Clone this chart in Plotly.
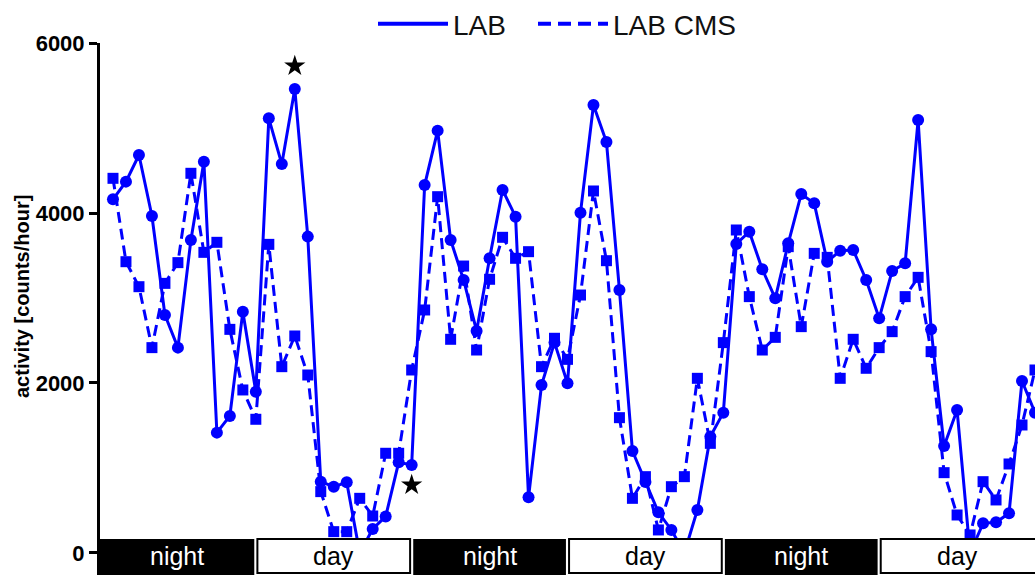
import plotly.graph_objects as go

# ---- data ----
hours = list(range(1, 73))
lab = [4161, 4369, 4682, 3965, 2800, 2416, 3682, 4604, 1416, 1612, 2839, 1898,
       5114, 4576, 5459, 3722, 839, 780, 831, 0, 282, 430, 1067, 1035,
       4329, 4969, 3682, 3212, 2612, 3467, 4271, 3957, 655, 1976, 2475, 1996,
       4004, 5271, 4835, 3094, 1200, 835, 478, 271, 0, 506, 1369, 1651,
       3635, 3780, 3337, 2996, 3643, 4224, 4114, 3427, 3557, 3565, 3212, 2761,
       3318, 3408, 5094, 2631, 1259, 1682, 0, 349, 361, 467, 2024, 1650]
lab_cms = [4408, 3427, 3133, 2416, 3172, 3416, 4467, 3537, 3655, 2631, 1918, 1573,
           3631, 2192, 2553, 2094, 722, 251, 251, 643, 435, 1173, 1173, 2153,
           2859, 4192, 2514, 3376, 2388, 3220, 3714, 3467, 3545, 2192, 2526, 2278,
           3035, 4259, 3439, 1592, 643, 898, 271, 780, 898, 2055, 1290, 2475,
           3800, 3016, 2388, 2537, 3604, 2663, 3525, 3478, 2055, 2514, 2173, 2416,
           2604, 3016, 3243, 2369, 945, 447, 212, 839, 624, 1047, 1506, 2153]
star_hours = [15, 24]
star_values = [5730, 800]
band_labels = ["night", "day", "night", "day", "night", "day"]
band_length = 12  # hours per band
y_ticks = [0, 2000, 4000, 6000]

BLUE = "#0000FF"
FONT = "Arial, Liberation Sans, sans-serif"

W, H = 1035, 575
ML, MT = 100, 43
PLOT_W, PLOT_H = W - ML, H - MT

fig = go.Figure()

# data traces
fig.add_trace(go.Scatter(
    x=hours, y=lab, mode="lines+markers", showlegend=False,
    line=dict(color=BLUE, width=3),
    marker=dict(symbol="circle", size=12, color=BLUE)))
fig.add_trace(go.Scatter(
    x=hours, y=lab_cms, mode="lines+markers", showlegend=False,
    line=dict(color=BLUE, width=3, dash="11px,6px"),
    marker=dict(symbol="square", size=11, color=BLUE)))
fig.add_trace(go.Scatter(
    x=star_hours, y=star_values, mode="markers", showlegend=False,
    marker=dict(symbol="star", size=16, color="black")))

# legend-only entries (lines without markers)
fig.add_trace(go.Scatter(x=[None], y=[None], mode="lines", name="LAB",
                         legendwidth=75,
                         line=dict(color=BLUE, width=4)))
fig.add_trace(go.Scatter(x=[None], y=[None], mode="lines", name="LAB CMS",
                         line=dict(color=BLUE, width=4, dash="13px,7px")))

# night/day bands
band_top, band_bottom, gap = 165, -300, 0.12
shapes, annotations = [], []
for i, lab_txt in enumerate(band_labels):
    x0 = i * band_length + (gap if i > 0 else 0)
    x1 = (i + 1) * band_length - gap
    night = lab_txt == "night"
    shapes.append(dict(
        type="rect", xref="x", yref="y", layer="above",
        x0=x0, x1=x1 if i < len(band_labels) - 1 else x1 + 5,
        y0=band_bottom if night else -235, y1=band_top,
        fillcolor="black" if night else "white",
        line=dict(color="black", width=0 if night else 2)))
    annotations.append(dict(
        x=(x0 + x1) / 2, y=-35, xref="x", yref="y", text=lab_txt,
        showarrow=False, xanchor="center", yanchor="middle",
        font=dict(family=FONT, size=25, color="white" if night else "black")))

# y-axis title
annotations.append(dict(
    x=-78 / PLOT_W, y=(575 - 297) / PLOT_H, xref="paper", yref="paper",
    text="activity [counts/hour]", textangle=-90, showarrow=False,
    xanchor="center", yanchor="middle",
    font=dict(family=FONT, size=20, color="black", weight="bold")))

fig.update_layout(
    width=W, height=H,
    margin=dict(l=ML, r=0, t=MT, b=0, autoexpand=False),
    paper_bgcolor="white", plot_bgcolor="white",
    shapes=shapes, annotations=annotations,
    legend=dict(orientation="h", x=273 / PLOT_W, y=1 + 19 / PLOT_H,
                xanchor="left", yanchor="middle",
                font=dict(family=FONT, size=28, color="#111"),
                itemwidth=70, bgcolor="rgba(0,0,0,0)"),
    xaxis=dict(range=[0, 72], visible=False, showgrid=False, zeroline=False),
    yaxis=dict(range=[-259, 6000], tickvals=y_ticks, ticks="outside",
               ticklen=8, tickwidth=3, tickcolor="black",
               showline=True, linecolor="black", linewidth=3,
               showgrid=False, zeroline=False,
               tickfont=dict(family=FONT, size=22, color="black", weight="bold")),
)

fig.write_html(
    "out.html",
    config={"displayModeBar": False},
    post_script="document.body.style.margin='0';document.body.style.overflow='hidden';",
)
